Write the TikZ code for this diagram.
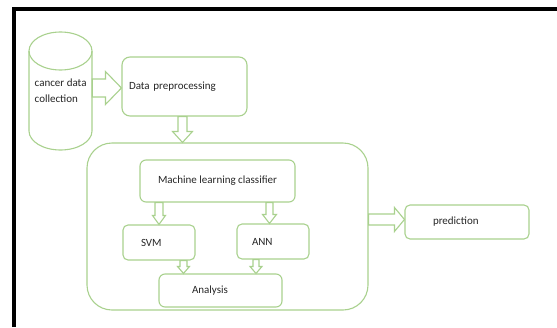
\documentclass[tikz,border=0pt]{standalone}
\usepackage{fontspec}
\setmainfont{Carlito}
\usetikzlibrary{calc}
\definecolor{lgreen}{HTML}{A9D18E}
\definecolor{txt}{HTML}{262626}
\tikzset{
  box/.style={draw=lgreen, line width=1.1pt, fill=white, text=txt, font=\fontsize{11}{16}\selectfont, inner ysep=0pt},
  blk/.style={draw=lgreen, line width=1.1pt, fill=white, line join=miter},
}
\newcommand\harrowblk[6]{%
  \draw[blk] let \p1=(#1), \p2=(#2) in
    (\x1,#3+#4) -- (\x2-#6,#3+#4) -- (\x2-#6,#3+#5) -- (\x2,#3)
    -- (\x2-#6,#3-#5) -- (\x2-#6,#3-#4) -- (\x1,#3-#4) -- cycle;}
\newcommand\varrowblk[6]{%
  \draw[blk] let \p1=(#1), \p2=(#2) in
    (#3-#4,\y1) -- (#3-#4,\y2+#6) -- (#3-#5,\y2+#6) -- (#3,\y2)
    -- (#3+#5,\y2+#6) -- (#3+#4,\y2+#6) -- (#3+#4,\y1) -- cycle;}
\begin{document}
\begin{tikzpicture}[x=1pt,y=-1pt]
\useasboundingbox (0,0) rectangle (557,327);
\fill[white] (0,0) rectangle (557,327);
% frame
\draw[line width=4pt] (14,327) -- (14,8.5) -- (557,8.5);
% cylinder
\draw[draw=lgreen, line width=1.1pt, fill=white]
  (29,51) -- (29,131) arc (180:360:31.5pt and 19pt) -- (92,51);
\draw[draw=lgreen, line width=1.1pt] (60.5,51) ellipse (31.5pt and 19pt);
\node[inner sep=0pt, minimum width=63pt, minimum height=118pt] (cyl) at (60.5,91) {};
\node[text=txt, font=\fontsize{11}{16}\selectfont, align=left, inner sep=0pt,
      anchor=west] (cyltext) at (34.5,90.5) {cancer data\\collection};
% boxes
\node[box, rounded corners=8pt, minimum width=125pt, minimum height=59pt,
      text width=111pt, inner xsep=7pt, align=left] (pre) at (184.5,86.5) {Data preprocessing};
\node[draw=lgreen, line width=1.1pt, rounded corners=25pt, minimum width=281pt,
      minimum height=167pt] (big) at (227.5,226.5) {};
\node[box, rounded corners=6pt, minimum width=155pt, minimum height=42pt] (ml) at (217.5,181) {Machine learning classifier};
\node[box, rounded corners=5pt, minimum width=72pt, minimum height=35pt,
      text width=36pt, inner xsep=18pt, align=left] (svm) at (159,242.5) {SVM};
\node[box, rounded corners=5pt, minimum width=72pt, minimum height=35pt,
      text width=42pt, inner xsep=15pt, align=left] (ann) at (273,241.5) {ANN};
\node[box, rounded corners=6pt, minimum width=123pt, minimum height=33pt,
      text width=57pt, inner xsep=33pt, align=left] (ana) at (220.5,290.5) {Analysis};
\node[box, rounded corners=5pt, minimum width=124pt, minimum height=34pt,
      text width=68pt, inner xsep=28pt, align=left] (pred) at (467,222) {prediction};
% block arrows
\harrowblk{cyl.east}{pre.west}{-88pt}{9pt}{16.5pt}{16pt}
\varrowblk{pre.south}{big.north}{182.5pt}{4.5pt}{10pt}{11pt}
\varrowblk{ml.south}{svm.north}{159pt}{4pt}{6.5pt}{9pt}
\varrowblk{ml.south}{ann.north}{269.5pt}{3.5pt}{7pt}{9pt}
\varrowblk{svm.south}{ana.north}{183.5pt}{3.5pt}{6pt}{7pt}
\varrowblk{ann.south}{ana.north}{256pt}{3pt}{6pt}{7pt}
\harrowblk{big.east}{pred.west}{-219.5pt}{5.5pt}{12pt}{10pt}
\end{tikzpicture}
\end{document}
